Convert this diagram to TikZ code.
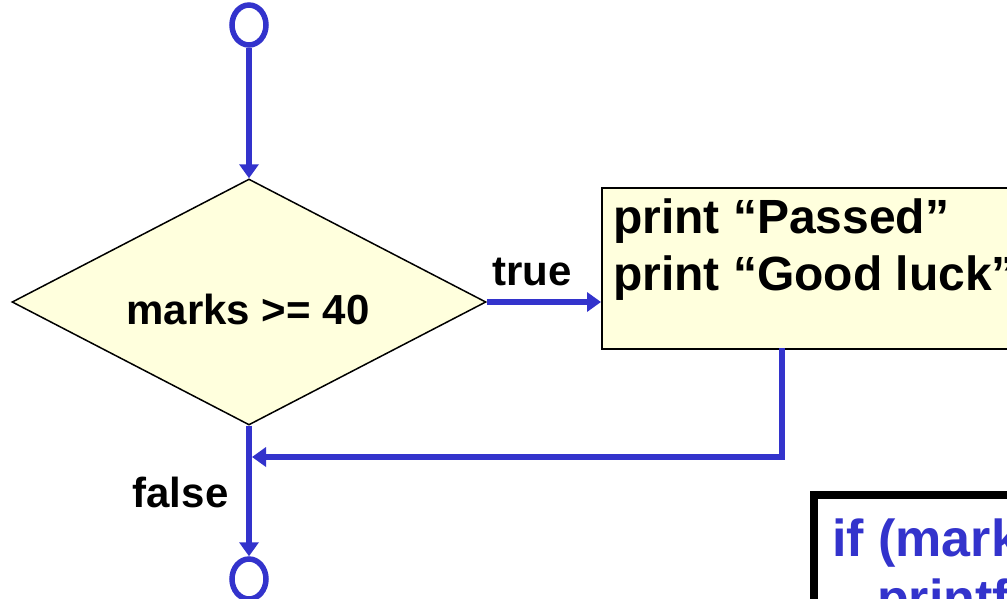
\documentclass[tikz,border=0pt]{standalone}
\usepackage{fontspec}
\setmainfont{Liberation Sans}
\usetikzlibrary{arrows.meta,shapes.geometric,calc}
\definecolor{flowblue}{HTML}{3333CC}
\definecolor{boxyellow}{HTML}{FFFFDD}
\tikzset{
  flow/.style={draw=flowblue,line width=5.5pt,-{Triangle[length=14pt,width=19pt]}},
  term/.style={ellipse,draw=flowblue,line width=5.5pt,fill=white,minimum width=34pt,minimum height=40pt,inner sep=0pt},
  decision/.style={diamond,draw=black,line width=1.5pt,fill=boxyellow,minimum width=474pt,minimum height=246pt,aspect=1.93,inner sep=0pt},
  process/.style={rectangle,draw=black,line width=1.5pt,fill=boxyellow,minimum width=520pt,minimum height=161pt,inner sep=0pt,anchor=north west},
  lbl/.style={font=\fontsize{42}{50}\selectfont\bfseries,inner sep=0pt,anchor=base},
  ptxt/.style={font=\fontsize{48}{57}\selectfont\bfseries,inner sep=0pt,anchor=base west},
  ctxt/.style={font=\fontsize{52}{60}\selectfont\bfseries,text=flowblue,inner sep=0pt,anchor=base west},
  codebox/.style={rectangle,draw=black,line width=7.5pt,fill=white,minimum width=300pt,minimum height=200pt,inner sep=0pt,anchor=north west}
}
\begin{document}
\begin{tikzpicture}[x=1pt,y=-1pt]
\clip (0,0) rectangle (1007,598);
\fill[white] (0,0) rectangle (1007,598);
% shapes
\node[term] (start) at (249,25) {};
\node[decision] (dec) at (249,302) {};
\node[lbl] (cond) at (248,324) {marks >= 40};
\fill[gray] (603,189) rectangle (1130,350);
\node[process] (box) at (601,187) {};
\node[ptxt] (p1) at (613,233) {print “Passed”};
\node[ptxt] (p2) at (613,290) {print “Good luck”};
\node[term] (stop) at (249,579) {};
\node[codebox] (code) at (810,491) {};
\node[ctxt] (c1) at (832,556) {if (mark};
\node[ctxt] (c2) at (877,616) {printf};
% labels
\node[lbl] (tl) at (532,285) {true};
\node[lbl] (fl) at (180.5,507) {false};
% connectors
\coordinate (join) at (252,457);
\coordinate (down) at (782,348);
\draw[flow] (start.south) -- (dec.north);
\draw[flow] (dec.east) -- (dec.east -| box.west);
\draw[flow] (down) |- (join);
\draw[flow] (dec.south) -- (stop.north);
\end{tikzpicture}
\end{document}
